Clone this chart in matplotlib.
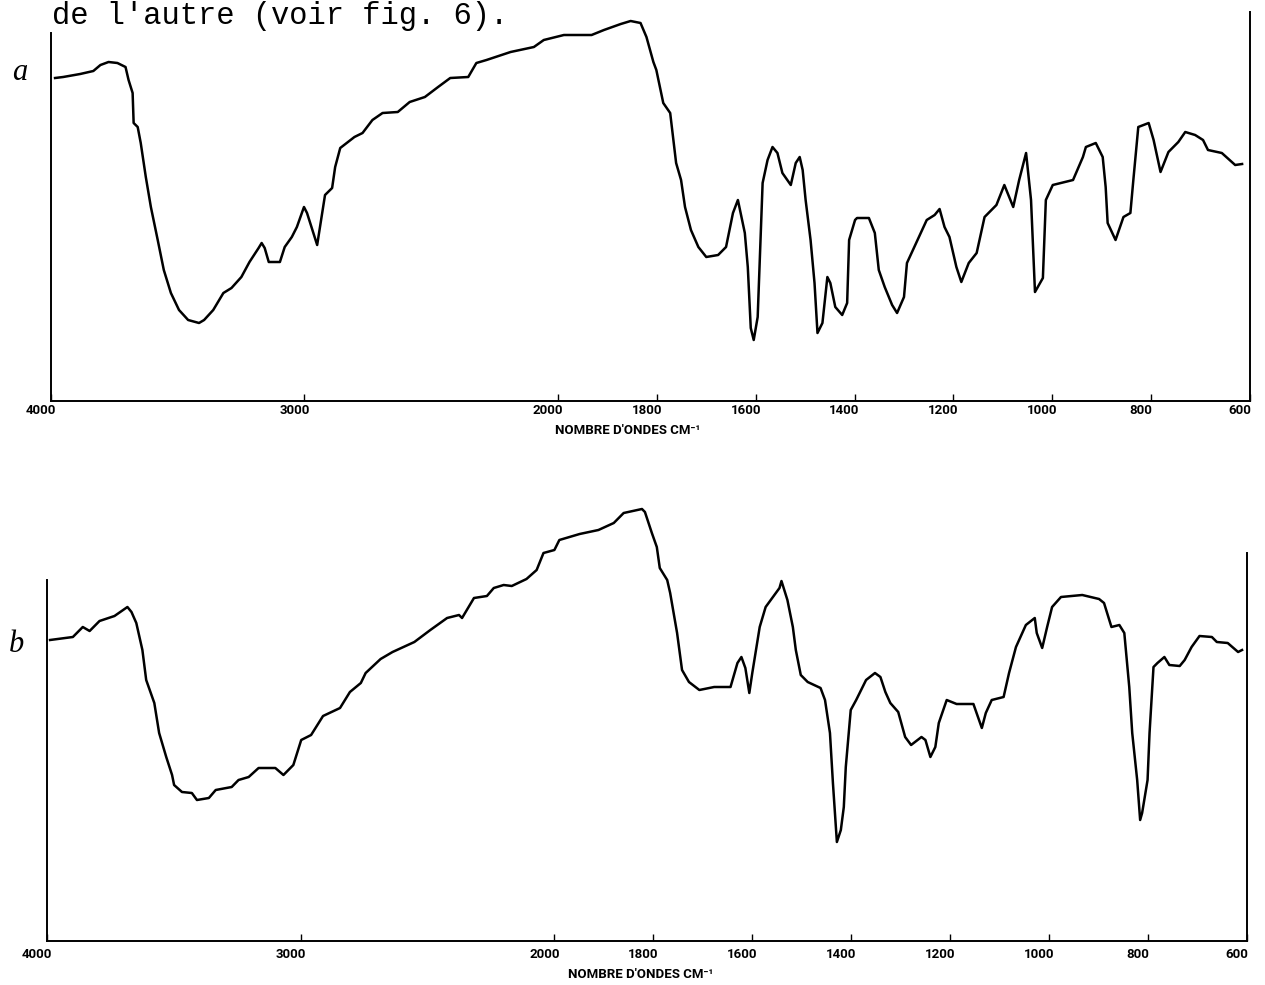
import numpy as np
import matplotlib
matplotlib.use("Agg")
import matplotlib.pyplot as plt
from matplotlib.transforms import ScaledTranslation

# ---------------- data (wavenumber cm-1, relative transmittance) ----------------
wn_a = [3984, 3952, 3885, 3833, 3805, 3773, 3738, 3706, 3694, 3678,
        3674, 3658, 3646, 3626, 3606, 3579, 3555, 3527, 3495, 3459,
        3416, 3396, 3360, 3320, 3288, 3249, 3217, 3181, 3169, 3157,
        3141, 3097, 3078, 3050, 3030, 3002, 2990, 2950, 2930, 2919,
        2891, 2879, 2859, 2803, 2771, 2732, 2692, 2632, 2585, 2525,
        2473, 2425, 2354, 2322, 2282, 2187, 2095, 2056, 1988, 1932,
        1907, 1873, 1853, 1833, 1821, 1807, 1801, 1787, 1773, 1761,
        1751, 1743, 1731, 1716, 1700, 1676, 1660, 1646, 1636, 1622,
        1616, 1610, 1604, 1596, 1586, 1576, 1566, 1556, 1546, 1529,
        1519, 1511, 1505, 1499, 1489, 1481, 1475, 1465, 1455, 1449,
        1439, 1425, 1415, 1411, 1399, 1395, 1371, 1359, 1351, 1339,
        1324, 1314, 1300, 1294, 1280, 1254, 1238, 1228, 1218, 1208,
        1194, 1184, 1169, 1153, 1137, 1113, 1097, 1079, 1067, 1053,
        1043, 1035, 1019, 1013, 999, 958, 938, 932, 912, 898,
        892, 888, 872, 856, 842, 836, 826, 805, 795, 781,
        765, 745, 731, 711, 695, 685, 657, 630, 616]
t_a = [78.75, 79, 79.75, 80.5, 82, 82.75, 82.5, 81.5, 78.25, 75,
       67.5, 66.5, 62.5, 54, 46.5, 38.25, 30.75, 25, 20.75, 18.25,
       17.5, 18.25, 20.75, 25, 26.25, 29, 32.75, 36.25, 37.5, 36.25,
       32.75, 32.75, 36.5, 39, 41.5, 46.5, 45, 37, 45, 49.5,
       51.25, 56.5, 61.25, 64, 65, 68.25, 70, 70.25, 72.75, 74,
       76.5, 78.75, 79, 82.5, 83.25, 85.25, 86.5, 88.25, 89.5, 89.5,
       90.75, 92.25, 93, 92.5, 89, 82.75, 80.75, 72.5, 70, 57.5,
       53.25, 46.5, 40.75, 36.5, 34, 34.5, 36.5, 45, 48.25, 40,
       31.5, 16.25, 13.25, 19, 52.5, 58.25, 61.5, 60, 55, 52,
       57.5, 59, 55.75, 48.25, 38.25, 27.5, 15, 17.5, 29, 27.5,
       21.5, 19.5, 22.5, 38.25, 43.25, 43.75, 43.75, 40, 30.75, 26.5,
       22, 20, 24, 32.5, 36.25, 43.25, 44.5, 46, 41.5, 39,
       31.5, 27.75, 32.5, 35, 44, 47, 52, 46.5, 53.25, 60,
       48.25, 25.25, 28.75, 48.25, 52, 53.25, 59, 61.5, 62.5, 59,
       51.5, 42.5, 38.25, 44, 45, 53.25, 66.5, 67.5, 63.25, 55.25,
       60.25, 62.75, 65.25, 64.5, 63.25, 60.75, 60, 57, 57.25]

wn_b = [3988, 3898, 3859, 3832, 3793, 3734, 3683, 3667, 3648, 3624,
        3609, 3577, 3558, 3530, 3507, 3499, 3468, 3429, 3409, 3362,
        3335, 3272, 3245, 3205, 3166, 3100, 3068, 3029, 2998, 2959,
        2912, 2845, 2806, 2763, 2744, 2685, 2638, 2552, 2489, 2423,
        2376, 2364, 2317, 2266, 2239, 2200, 2168, 2110, 2070, 2043,
        2000, 1990, 1949, 1911, 1880, 1860, 1823, 1817, 1803, 1793,
        1787, 1772, 1766, 1752, 1742, 1728, 1707, 1677, 1644, 1630,
        1622, 1614, 1606, 1600, 1585, 1573, 1545, 1541, 1529, 1518,
        1512, 1502, 1488, 1462, 1453, 1443, 1437, 1429, 1421, 1415,
        1411, 1401, 1390, 1370, 1352, 1341, 1331, 1321, 1305, 1291,
        1279, 1258, 1250, 1240, 1230, 1223, 1207, 1187, 1153, 1136,
        1128, 1116, 1092, 1081, 1067, 1047, 1029, 1025, 1014, 1004,
        994, 976, 933, 899, 889, 874, 858, 848, 838, 832,
        822, 816, 812, 801, 797, 789, 781, 767, 757, 736,
        726, 712, 696, 671, 661, 639, 618, 610]
t_b = [74.25, 75, 77.5, 76.5, 79, 80.25, 82.5, 81.25, 78.5, 71.75,
       64.25, 58.5, 51, 45, 40.5, 38, 36.25, 36, 34.25, 34.75,
       36.75, 37.5, 39.25, 40, 42.25, 42.25, 40.5, 43, 49.25, 50.5,
       55.25, 57.25, 61.25, 63.5, 66, 69.5, 71.25, 73.75, 76.75, 79.75,
       80.5, 79.75, 84.75, 85.25, 87.25, 88, 87.75, 89.5, 91.75, 96,
       96.75, 99.25, 100.75, 101.75, 103.5, 106, 107, 106.25, 101, 97.5,
       92.25, 89.25, 86, 76, 66.75, 63.75, 61.75, 62.5, 62.5, 68.5,
       70, 67.25, 61, 66, 77.5, 82.5, 87.25, 89, 84.25, 77.5,
       71.75, 65.5, 63.75, 62.25, 59.25, 51, 38.5, 23.75, 26.75, 32.5,
       42.5, 56.75, 59.25, 64.25, 66, 65, 61.25, 58.5, 56.25, 50,
       48, 50, 49.25, 45, 47.5, 53.5, 59.25, 58.25, 58.25, 52.25,
       56, 59.25, 60, 66, 72.5, 78, 79.75, 76, 72.25, 77.5,
       82.5, 85, 85.5, 84.5, 83.5, 77.5, 78, 76, 62.5, 51,
       39.25, 29.25, 31, 39.25, 51, 67.5, 68.5, 70, 68, 67.75,
       69.25, 72.5, 75.25, 75, 73.75, 73.5, 71.25, 71.75]

tick_values = [4000, 3000, 2000, 1800, 1600, 1400, 1200, 1000, 800, 600]
tick_labels = ["4000", "3000", "2000", "1800", "1600", "1400", "1200", "1000", "800", "600"]
xlabel = "NOMBRE D'ONDES CM\u207b\u00b9"
header = "de l'autre (voir fig. 6)."

# ---------------- IR chart abscissa: scale doubles below 2000 cm-1 ----------------
K = 1.95


def fwd(w):
    w = np.asarray(w, dtype=float)
    return np.where(w >= 2000, w, 2000 - (2000 - w) * K)


def inv(p):
    p = np.asarray(p, dtype=float)
    return np.where(p >= 2000, p, 2000 - (2000 - p) / K)


W, H = 1265, 985
fig = plt.figure(figsize=(W / 100, H / 100), dpi=100)
fig.patch.set_facecolor("white")


def px_axes(x0, x1, ytop, ybot):
    return fig.add_axes([x0 / W, (H - ybot) / H, (x1 - x0) / W, (ybot - ytop) / H])


def style(ax, ylim, lbound, rbound, pad):
    ax.set_xscale("function", functions=(fwd, inv))
    ax.set_xlim(4000, 600)
    ax.set_ylim(*ylim)
    ax.set_yticks([])
    ax.spines["top"].set_visible(False)
    for s in ("left", "right", "bottom"):
        ax.spines[s].set_linewidth(1.4)
        ax.spines[s].set_color("black")
    ax.spines["left"].set_bounds(ylim[0], lbound)
    ax.spines["right"].set_bounds(ylim[0], rbound)
    ax.set_xticks(tick_values)
    ax.set_xticklabels(tick_labels, fontfamily="Roboto", fontweight="bold", fontsize=9.5)
    ax.minorticks_off()
    ax.tick_params(axis="x", direction="in", length=5, width=1.0, pad=pad, colors="black")
    off = ScaledTranslation(-10 / 100, 0, fig.dpi_scale_trans)
    for lab in ax.get_xticklabels():
        lab.set_transform(lab.get_transform() + off)
    ax.patch.set_alpha(0)


# top spectrum (a)
ax1 = px_axes(51, 1250, 10, 401)
ax1.plot(wn_a, t_a, color="black", lw=1.8, solid_joinstyle="round")
style(ax1, (-2, 95.75), 90, 95.25, pad=2)

# bottom spectrum (b)
ax2 = px_axes(47, 1247, 500, 941)
ax2.plot(wn_b, t_b, color="black", lw=1.8, solid_joinstyle="round")
style(ax2, (-1, 109.25), 89.25, 96, pad=5)

# x-axis titles
fig.text(628 / W, (H - 430) / H, xlabel, ha="center", va="center",
         fontfamily="Roboto", fontweight="bold", fontsize=9.5)
fig.text(641 / W, (H - 975) / H, xlabel, ha="center", va="center",
         fontfamily="Roboto", fontweight="bold", fontsize=9.5)

# panel letters
fig.text(20 / W, (H - 72) / H, "a", ha="center", va="center",
         fontfamily="Liberation Serif", fontstyle="italic", fontsize=22)
fig.text(16 / W, (H - 645) / H, "b", ha="center", va="center",
         fontfamily="Liberation Serif", fontstyle="italic", fontsize=22)

# header line of running text (kept fully inside the figure)
fig.text(52 / W, (H - 24) / H, header, ha="left", va="baseline",
         fontfamily="Liberation Mono", fontsize=22)

fig.savefig("out.png", dpi=100, facecolor="white")
